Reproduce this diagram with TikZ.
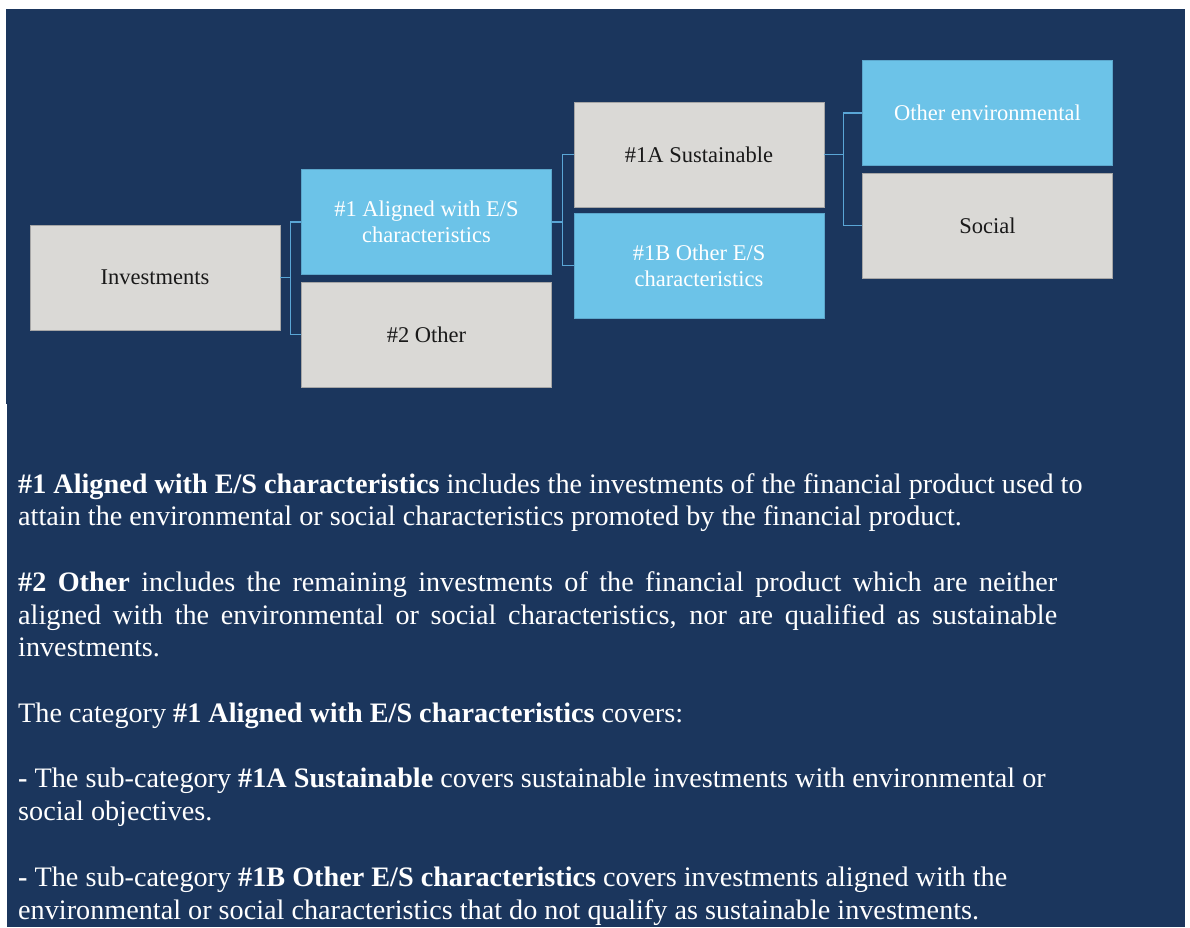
\documentclass[tikz,border=0pt]{standalone}
\usepackage{fontspec}
\setmainfont{Liberation Serif}
\usetikzlibrary{calc}
\definecolor{navy}{HTML}{1B365D}
\definecolor{skyblue}{HTML}{6CC3E8}
\definecolor{stone}{HTML}{DAD9D6}
\definecolor{wire}{HTML}{5AA6D6}
\tikzset{
  box/.style = {minimum width=250pt, minimum height=105pt, inner sep=2pt, align=center, font=\fontsize{22.5}{26}\selectfont},
  greybox/.style = {box, fill=stone, draw=gray!70, text=black!90},
  bluebox/.style = {box, fill=skyblue, draw=skyblue!80!navy, text=white},
  link/.style = {color=wire, line width=1.3pt},
  note/.style = {anchor=base west, inner sep=0pt, text=white, font=\fontsize{28.2}{32.77}\selectfont}
}
\newcommand{\elbow}[2]{%
  % #1: parent node, #2: child node
  \path (#1.east -| #2.west) coordinate (tmp);
  \draw[link] (#1.east) -- ($(#1.east)!0.5!(tmp)$) |- (#2.west);
}

\begin{document}
\begin{tikzpicture}[x=1pt, y=-1pt]

    \useasboundingbox (0,0) rectangle (1190,927);

    % Background
    \fill[navy] (6,9) rectangle (1185,404);
    \fill[navy] (7,404) rectangle (1185,927);

    % Boxes
    \node[greybox] (inv) at (155,277.5) {Investments};
    \node[bluebox] (aligned) at (426.5,222) {\#1 Aligned with E/S\\characteristics};
    \node[greybox] (other) at (426.5,334.5) {\#2 Other};
    \node[greybox] (sust) at (699,154.5) {\#1A Sustainable};
    \node[bluebox] (otheres) at (699,265.5) {\#1B Other E/S\\characteristics};
    \node[bluebox] (env) at (987.5,113) {Other environmental};
    \node[greybox] (soc) at (987.5,225.5) {Social};

    % Connectors
    \elbow{inv}{aligned}
    \elbow{inv}{other}
    \elbow{aligned}{sust}
    \elbow{aligned}{otheres}
    \elbow{sust}{env}
    \elbow{sust}{soc}

    % Notes
    \node[note] (n1a) at (18,493) {\textbf{\#1 Aligned with E/S characteristics} includes the investments of the financial product used to};
    \node[note] (n1b) at (18,525.8) {attain the environmental or social characteristics promoted by the financial product.};
    \node[note] (n2a) at (18,591.3) {\makebox[1039pt][s]{\textbf{\#2 Other} includes the remaining investments of the financial product which are neither}};
    \node[note] (n2b) at (18,624.1) {\makebox[1039pt][s]{aligned with the environmental or social characteristics, nor are qualified as sustainable}};
    \node[note] (n2c) at (18,656.9) {investments.};
    \node[note] (n3) at (18,722.4) {The category \textbf{\#1 Aligned with E/S characteristics} covers:};
    \node[note] (n4a) at (18,787.9) {\textbf{-} The sub-category \textbf{\#1A Sustainable} covers sustainable investments with environmental or};
    \node[note] (n4b) at (18,820.7) {social objectives.};
    \node[note] (n5a) at (18,886.2) {\textbf{-} The sub-category \textbf{\#1B Other E/S characteristics} covers investments aligned with the};
    \node[note] (n5b) at (18,919.0) {environmental or social characteristics that do not qualify as sustainable investments.};

\end{tikzpicture}
\end{document}
